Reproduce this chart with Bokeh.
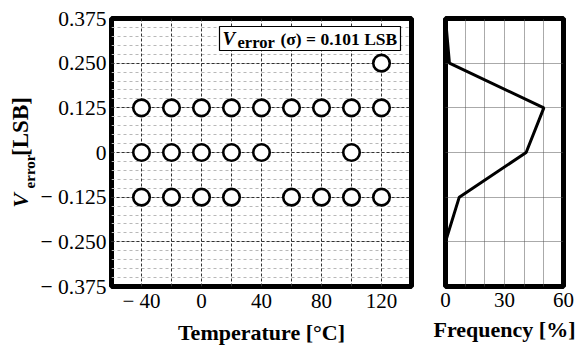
from math import pi

from bokeh.core.properties import value
from bokeh.embed import file_html
from bokeh.layouts import row
from bokeh.models import FixedTicker, Grid, Range1d
from bokeh.plotting import figure
from bokeh.resources import INLINE

# ---- data -------------------------------------------------------------
# error code observed at each temperature, one list per error level
temps_p0250 = [120]
temps_p0125 = [-40, -20, 0, 20, 40, 60, 80, 100, 120]
temps_zero = [-40, -20, 0, 20, 40, 100]
temps_m0125 = [-40, -20, 0, 20, 60, 80, 100, 120]
error_levels = [0.25, 0.125, 0.0, -0.125]

# frequency distribution of the error (percent)
hist_levels = [-0.375, -0.25, -0.125, 0.0, 0.125, 0.25, 0.375]
hist_freq = [0, 0, 7, 41, 50, 2, 0]

sigma_text = "(σ) = 0.101 LSB"

x_ticks = [-40, 0, 40, 80, 120]
x_tick_labels = ["− 40", "0", "40", "80", "120"]
y_ticks = [-0.375, -0.25, -0.125, 0.0, 0.125, 0.25, 0.375]
y_tick_labels = ["− 0.375", "− 0.250", "− 0.125", "0", "0.125", "0.250", "0.375"]
f_ticks = [0, 30, 60]
f_tick_labels = ["0", "30", "60"]

# ---- layout constants (pixels) -----------------------------------------
SERIF = "Liberation Serif"
TOP, BOTTOM = 18, 65
H = 351
TITLE_W = 36                       # strip holding the rotated y title
L_BORDER, L_FRAME_W, L_RIGHT = 75, 300, 14
R_BORDER, R_FRAME_W, R_RIGHT = 20, 118, 14
FRAME_H = H - TOP - BOTTOM
FRAME_LEFT = TITLE_W + L_BORDER

X0, X1 = -60, 140
Y0, Y1 = -0.375, 0.375


def px_x(px):
    """canvas x pixel -> data x of the left plot"""
    return X0 + (px - FRAME_LEFT) / L_FRAME_W * (X1 - X0)


def px_y(py):
    """canvas y pixel -> data y"""
    return Y1 - (py - TOP) / FRAME_H * (Y1 - Y0)


def style_axis(ax, ticks, labels, standoff, size="21px"):
    ax.ticker = FixedTicker(ticks=ticks)
    ax.major_label_overrides = {t: s for t, s in zip(ticks, labels)}
    ax.major_tick_line_color = None
    ax.minor_tick_line_color = None
    ax.major_tick_out = 0
    ax.major_tick_in = 0
    ax.minor_tick_out = 0
    ax.minor_tick_in = 0
    ax.axis_line_color = None
    ax.major_label_text_font = SERIF
    ax.major_label_text_font_size = size
    ax.major_label_text_color = "black"
    ax.major_label_standoff = standoff


def style_xlabel(ax, text, standoff):
    ax.axis_label = text
    ax.axis_label_text_font = SERIF
    ax.axis_label_text_font_style = "bold"
    ax.axis_label_text_font_size = "22px"
    ax.axis_label_standoff = standoff
    ax.axis_label_text_color = "black"


# ---- strip with the rotated y-axis title --------------------------------
# its data coordinates equal canvas pixels (frame spans TOP .. TOP+FRAME_H)
t = figure(width=TITLE_W, height=H, x_range=Range1d(0, TITLE_W),
           y_range=Range1d(TOP + FRAME_H, TOP),
           x_axis_type=None, y_axis_type=None,
           output_backend="svg", toolbar_location=None,
           min_border_left=0, min_border_right=0,
           min_border_top=TOP, min_border_bottom=BOTTOM)
t.outline_line_color = None
t.grid.visible = False
t.text(x=[20], y=[200], text=["V"], angle=pi / 2, text_font=value(SERIF),
       text_font_style="bold italic", text_font_size="22px",
       text_align="center", text_baseline="middle", text_color="black")
t.text(x=[29], y=[171], text=["error"], angle=pi / 2, text_font=value(SERIF),
       text_font_style="bold", text_font_size="15px",
       text_align="center", text_baseline="middle", text_color="black")
t.text(x=[20], y=[126], text=["[LSB]"], angle=pi / 2, text_font=value(SERIF),
       text_font_style="bold", text_font_size="23px",
       text_align="center", text_baseline="middle", text_color="black")

# ---- left: error vs temperature ----------------------------------------
p = figure(width=L_BORDER + L_FRAME_W + L_RIGHT, height=H,
           x_range=Range1d(X0, X1), y_range=Range1d(Y0, Y1),
           output_backend="svg", toolbar_location=None,
           min_border_left=L_BORDER, min_border_right=L_RIGHT,
           min_border_top=TOP, min_border_bottom=BOTTOM)
p.outline_line_color = "black"
p.outline_line_width = 5
p.background_fill_color = "white"
p.border_fill_color = "white"

minor_y = [Y0 + i * 0.025 for i in range(31)]
p.center = [
    Grid(dimension=1, ticker=FixedTicker(ticks=minor_y),
         grid_line_color="#b8b8b8", grid_line_dash="3 3", grid_line_width=1),
    Grid(dimension=1, ticker=FixedTicker(ticks=y_ticks),
         grid_line_color="#333333", grid_line_dash="3 2", grid_line_width=1),
    Grid(dimension=0, ticker=FixedTicker(ticks=list(range(-40, 121, 20))),
         grid_line_color="#333333", grid_line_dash="3 2", grid_line_width=1),
]

style_axis(p.xaxis[0], x_ticks, x_tick_labels, 2)
style_axis(p.yaxis[0], y_ticks, y_tick_labels, 5, size="21.5px")
style_xlabel(p.xaxis[0], "Temperature [°C]", 4)

for temps, lev in zip([temps_p0250, temps_p0125, temps_zero, temps_m0125], error_levels):
    p.scatter(temps, [lev] * len(temps), size=16.5, marker="circle",
              fill_color="white", line_color="black", line_width=2.6)

# sigma annotation box
p.quad(left=[px_x(FRAME_LEFT + 108)], right=[px_x(FRAME_LEFT + 289)],
       top=[px_y(26)], bottom=[px_y(50)],
       fill_color="white", line_color="black", line_width=1.2)
box_mid = px_y(38)
p.text(x=[px_x(FRAME_LEFT + 111)], y=[box_mid], text=["V"], text_font=value(SERIF),
       text_font_style="bold italic", text_font_size="19px",
       text_align="left", text_baseline="middle", text_color="black")
p.text(x=[px_x(FRAME_LEFT + 126)], y=[px_y(42)], text=["error"], text_font=value(SERIF),
       text_font_style="bold", text_font_size="16.5px",
       text_align="left", text_baseline="middle", text_color="black")
p.text(x=[px_x(FRAME_LEFT + 169)], y=[box_mid], text=[sigma_text], text_font=value(SERIF),
       text_font_style="bold", text_font_size="17.5px",
       text_align="left", text_baseline="middle", text_color="black")

# ---- right: frequency distribution -------------------------------------
q = figure(width=R_BORDER + R_FRAME_W + R_RIGHT, height=H,
           x_range=Range1d(0, 60), y_range=p.y_range,
           output_backend="svg", toolbar_location=None,
           min_border_left=R_BORDER, min_border_right=R_RIGHT,
           min_border_top=TOP, min_border_bottom=BOTTOM)
q.outline_line_color = "black"
q.outline_line_width = 5
q.background_fill_color = "white"
q.border_fill_color = "white"
q.center = [
    Grid(dimension=0, ticker=FixedTicker(ticks=list(range(0, 61, 10))),
         grid_line_color="#555555", grid_line_dash="1 1", grid_line_width=1),
    Grid(dimension=1, ticker=FixedTicker(ticks=y_ticks),
         grid_line_color="#555555", grid_line_dash="1 1", grid_line_width=1),
]
q.yaxis.visible = False
style_axis(q.xaxis[0], f_ticks, f_tick_labels, 6)
style_xlabel(q.xaxis[0], "Frequency [%]", 7)

q.line(hist_freq, hist_levels, line_width=3, line_color="black")

layout = row(t, p, q)
open("out.html", "w").write(file_html(layout, INLINE))
